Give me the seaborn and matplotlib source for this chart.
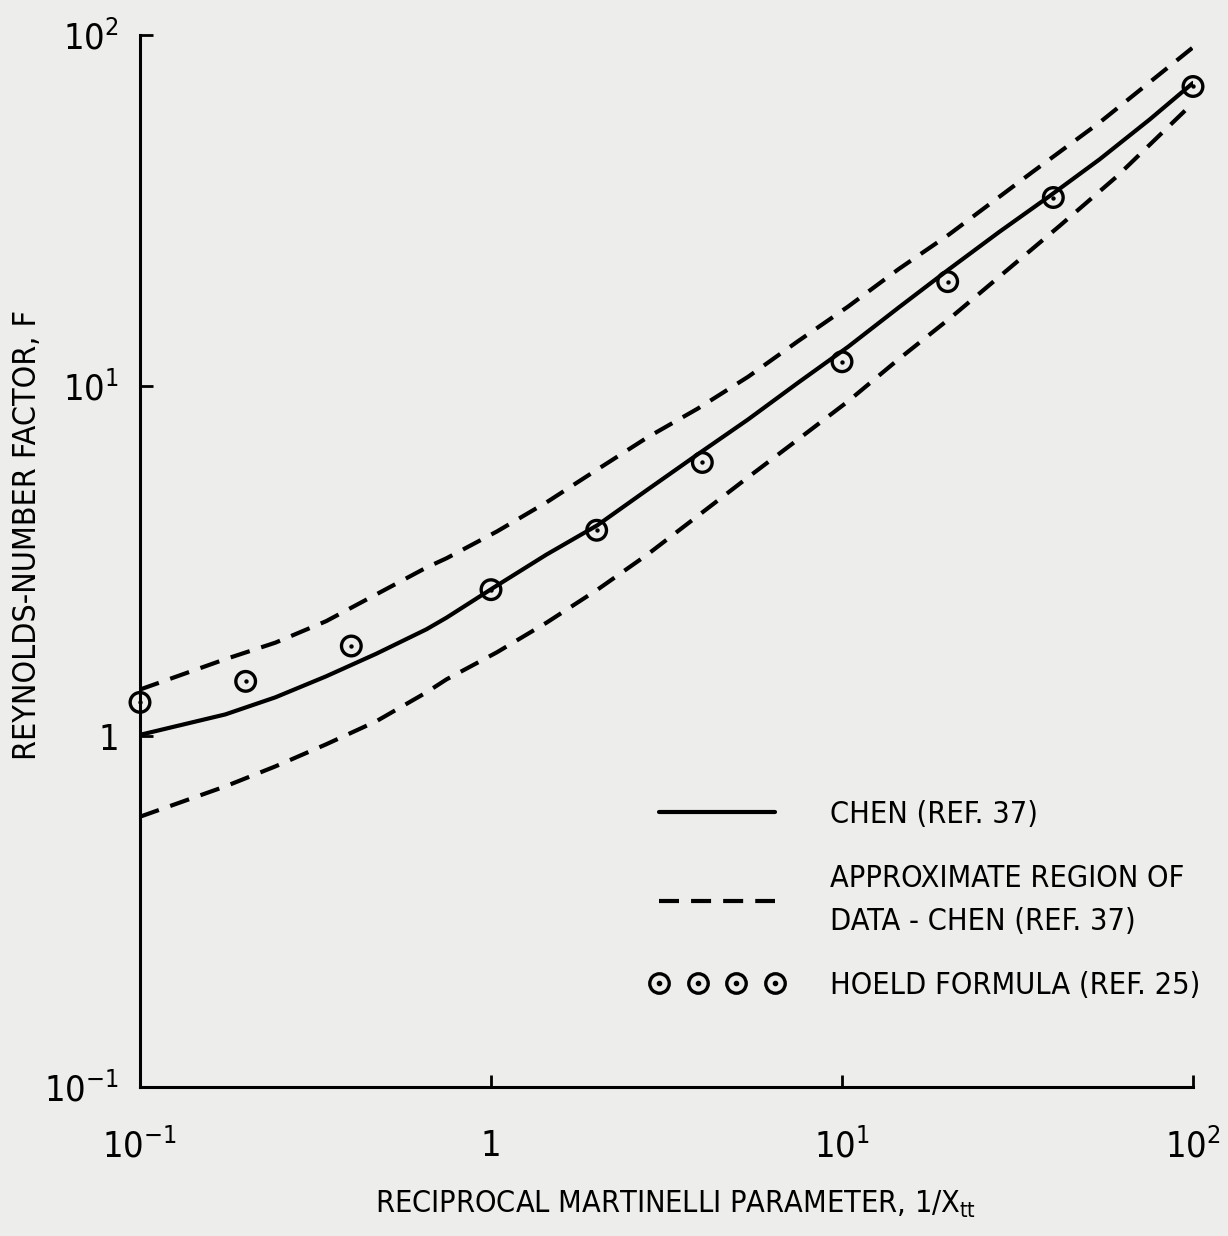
import numpy as np
import pandas as pd
import matplotlib
matplotlib.use("Agg")
import matplotlib.pyplot as plt
import seaborn as sns
from matplotlib.lines import Line2D
from matplotlib.legend_handler import HandlerTuple
from matplotlib.ticker import NullLocator

# ---- data (log-log chart) ----
chen_x = [0.1, 0.175, 0.243, 0.339, 0.471, 0.655, 0.747, 1.02, 1.44, 2.01,
          2.79, 3.88, 5.40, 7.50, 10.4, 14.5, 20.2, 28.0, 39.0, 54.2, 75.4, 100]
chen_f = [1.01, 1.155, 1.292, 1.483, 1.72, 2.02, 2.18, 2.66, 3.30, 4.0,
          5.05, 6.37, 8.01, 10.2, 12.9, 16.7, 21.5, 27.4, 34.7, 44.2, 57.5, 73.0]

upper_x = [0.1, 0.175, 0.243, 0.339, 0.471, 0.655, 0.747, 1.04, 1.44, 2.01,
           2.79, 3.88, 5.40, 7.50, 10.4, 14.5, 20.2, 34.8, 54.2, 100]
upper_f = [1.36, 1.66, 1.85, 2.13, 2.54, 3.03, 3.22, 3.84, 4.65, 5.77,
           7.12, 8.6, 10.6, 13.4, 16.8, 21.5, 27.0, 40.6, 56.3, 92.2]

lower_x = [0.1, 0.175, 0.243, 0.339, 0.471, 0.655, 0.747, 1.04, 1.44, 2.01,
           2.79, 3.88, 5.40, 7.50, 10.4, 14.5, 20.2, 41.6, 60.7, 100]
lower_f = [0.59, 0.72, 0.821, 0.949, 1.104, 1.335, 1.454, 1.737, 2.11, 2.62,
           3.30, 4.25, 5.48, 7.03, 9.02, 11.9, 15.5, 28.5, 39.5, 64.0]

hoeld_x = [0.1, 0.2, 0.4, 1, 2, 4, 10, 20, 40, 100]
hoeld_f = [1.25, 1.435, 1.81, 2.62, 3.87, 6.04, 11.7, 19.8, 34.4, 71.3]

tick_vals = [0.1, 1, 10, 100]
tick_labels = ["$10^{-1}$", "1", "$10^{1}$", "$10^{2}$"]

legend_labels = ["CHEN (REF. 37)",
                 "APPROXIMATE REGION OF\nDATA - CHEN (REF. 37)",
                 "HOELD FORMULA (REF. 25)"]
xlabel = "RECIPROCAL MARTINELLI PARAMETER, 1/X$_{tt}$"
ylabel = "REYNOLDS-NUMBER FACTOR, F"

# ---- style ----
bg = "#ededeb"
sns.set_theme(style="ticks")
plt.rcParams["font.family"] = ["DejaVu Sans"]
plt.rcParams["font.stretch"] = "condensed"
plt.rcParams["text.color"] = "black"
plt.rcParams["mathtext.fontset"] = "custom"
plt.rcParams["mathtext.rm"] = "DejaVu Sans:stretch=condensed"
plt.rcParams["mathtext.it"] = "DejaVu Sans:stretch=condensed"
plt.rcParams["mathtext.bf"] = "DejaVu Sans:stretch=condensed"
plt.rcParams["mathtext.default"] = "regular"

fig = plt.figure(figsize=(12.28, 12.36), dpi=100, facecolor=bg)
ax = fig.add_axes([0.114, 0.1205, 0.8575, 0.8512])
ax.set_facecolor(bg)
ax.set_xscale("log")
ax.set_yscale("log")

lw = 3.0
dash = (0, (4.8, 2.9))

df_chen = pd.DataFrame({"x": chen_x, "F": chen_f})
df_up = pd.DataFrame({"x": upper_x, "F": upper_f})
df_lo = pd.DataFrame({"x": lower_x, "F": lower_f})
df_ho = pd.DataFrame({"x": hoeld_x, "F": hoeld_f})

sns.lineplot(data=df_chen, x="x", y="F", ax=ax, color="black", lw=lw,
             sort=False, estimator=None)
sns.lineplot(data=df_up, x="x", y="F", ax=ax, color="black", lw=lw,
             linestyle=dash, sort=False, estimator=None)
sns.lineplot(data=df_lo, x="x", y="F", ax=ax, color="black", lw=lw,
             linestyle=dash, sort=False, estimator=None)
sns.scatterplot(data=df_ho, x="x", y="F", ax=ax, marker="o", s=200,
                facecolor="none", edgecolor="black", linewidth=2.4,
                clip_on=False, zorder=5)
sns.scatterplot(data=df_ho, x="x", y="F", ax=ax, marker="o", s=10,
                color="black", linewidth=0, clip_on=False, zorder=6)

ax.set_xlim(0.1, 100)
ax.set_ylim(0.1, 100)
ax.set_xticks(tick_vals)
ax.set_xticklabels(tick_labels)
ax.set_yticks(tick_vals)
ax.set_yticklabels(tick_labels)
ax.xaxis.set_minor_locator(NullLocator())
ax.yaxis.set_minor_locator(NullLocator())

for s in ["top", "right"]:
    ax.spines[s].set_visible(False)
for s in ["left", "bottom"]:
    ax.spines[s].set_linewidth(2.2)
    ax.spines[s].set_color("black")

ax.tick_params(axis="both", direction="in", length=9, width=2, colors="black",
               labelsize=26)
ax.tick_params(axis="x", pad=30)
ax.tick_params(axis="y", pad=15)

ax.set_xlabel(xlabel, fontsize=22, color="black")
ax.set_ylabel(ylabel, fontsize=23, color="black")
ax.xaxis.set_label_coords(0.509, -0.097)
ax.yaxis.set_label_coords(-0.092, 0.525)

handles = [
    Line2D([], [], color="black", lw=lw),
    Line2D([], [], color="black", lw=lw, linestyle=dash),
    (Line2D([], [], ls="none", marker="o", mfc="none", mec="black", ms=14, mew=2.4),
     Line2D([], [], ls="none", marker="o", color="black", ms=3)),
]
leg = ax.legend(handles, legend_labels,
                handler_map={tuple: HandlerTuple(ndivide=1, pad=0)},
                numpoints=4, frameon=False, loc="upper left",
                bbox_to_anchor=(0.484, 0.273), borderpad=0, borderaxespad=0,
                handlelength=4.4, handletextpad=1.5, labelspacing=1.15,
                fontsize=22, labelcolor="black")
for t in leg.get_texts():
    t.set_linespacing(1.6)

fig.savefig("out.png", dpi=100, facecolor=bg)
